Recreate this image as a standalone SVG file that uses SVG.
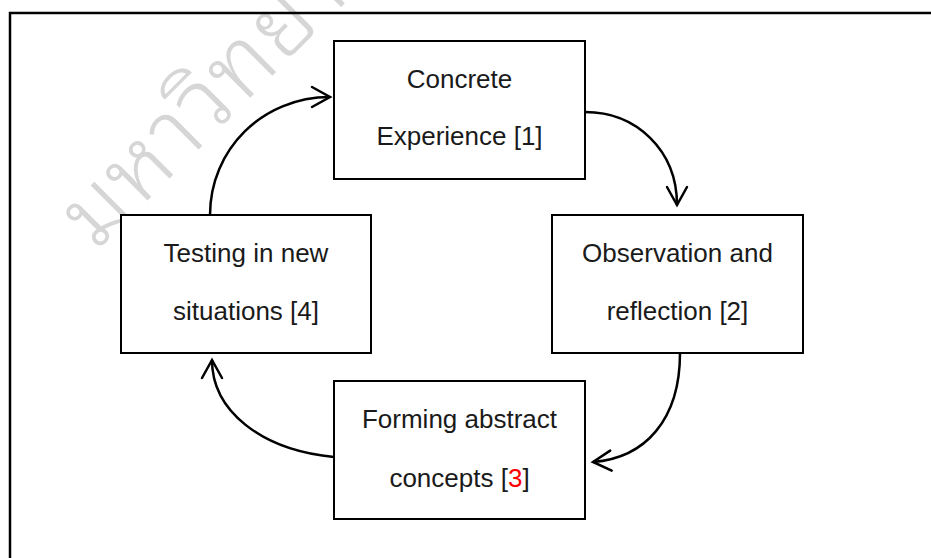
<svg xmlns="http://www.w3.org/2000/svg" width="931" height="558" viewBox="0 0 931 558">
  <style>
    .box { fill: #ffffff; stroke: #000000; stroke-width: 2; }
    .label { font-family: "Liberation Sans", Arial, sans-serif; font-size: 26px; fill: #1a1a1a; text-anchor: middle; }
    .link { fill: none; stroke: #000000; stroke-width: 2.5; marker-end: url(#openArrow); }
    .mark { font-family: "Noto Sans Thai Looped", Loma, Garuda, Tahoma, "Noto Sans Thai", "Noto Sans", sans-serif; font-size: 92px; font-weight: 300; fill: #d6d6d6; letter-spacing: 2px; }
  </style>
  <defs>
    <marker id="openArrow" viewBox="-22 -12 26 24" markerWidth="26" markerHeight="24" refX="0" refY="0" orient="auto" markerUnits="userSpaceOnUse">
      <path d="M-18,-10 L0,0 L-18,10" fill="none" stroke="#000000" stroke-width="2.5" stroke-linecap="round" stroke-linejoin="miter"/>
    </marker>
  </defs>

  <rect width="931" height="558" fill="#ffffff"/>

  <!-- faint watermark -->
  <text class="mark" x="96" y="252" transform="rotate(-45 96 252)">มหาวิทยาลัย</text>

  <!-- outer frame -->
  <rect x="10" y="13" width="960" height="600" fill="none" stroke="#000000" stroke-width="2.5"/>

  <g id="connectors">
    <path class="link" d="M210,215 C210,150 262,97 330,97"/>
    <path class="link" d="M585,112 C636,112 677,150 677,205"/>
    <path class="link" d="M680,353 C680,420 645,458 593,462"/>
    <path class="link" d="M334,457 C260,450 212,410 212,360"/>
  </g>

  <g id="concrete-experience">
    <rect class="box" x="334" y="41" width="251" height="138"/>
    <text class="label" x="459.5" y="88">Concrete</text>
    <text class="label" x="459.5" y="145">Experience [1]</text>
  </g>

  <g id="observation-reflection">
    <rect class="box" x="552" y="215" width="251" height="138"/>
    <text class="label" x="677.5" y="262">Observation and</text>
    <text class="label" x="677.5" y="320">reflection [2]</text>
  </g>

  <g id="forming-concepts">
    <rect class="box" x="334" y="381" width="251" height="138"/>
    <text class="label" x="459.5" y="428">Forming abstract</text>
    <text class="label" x="459.5" y="487">concepts [<tspan fill="#ff0000">3</tspan>]</text>
  </g>

  <g id="testing-situations">
    <rect class="box" x="121" y="215" width="250" height="138"/>
    <text class="label" x="246" y="262">Testing in new</text>
    <text class="label" x="246" y="320">situations [4]</text>
  </g>
</svg>
